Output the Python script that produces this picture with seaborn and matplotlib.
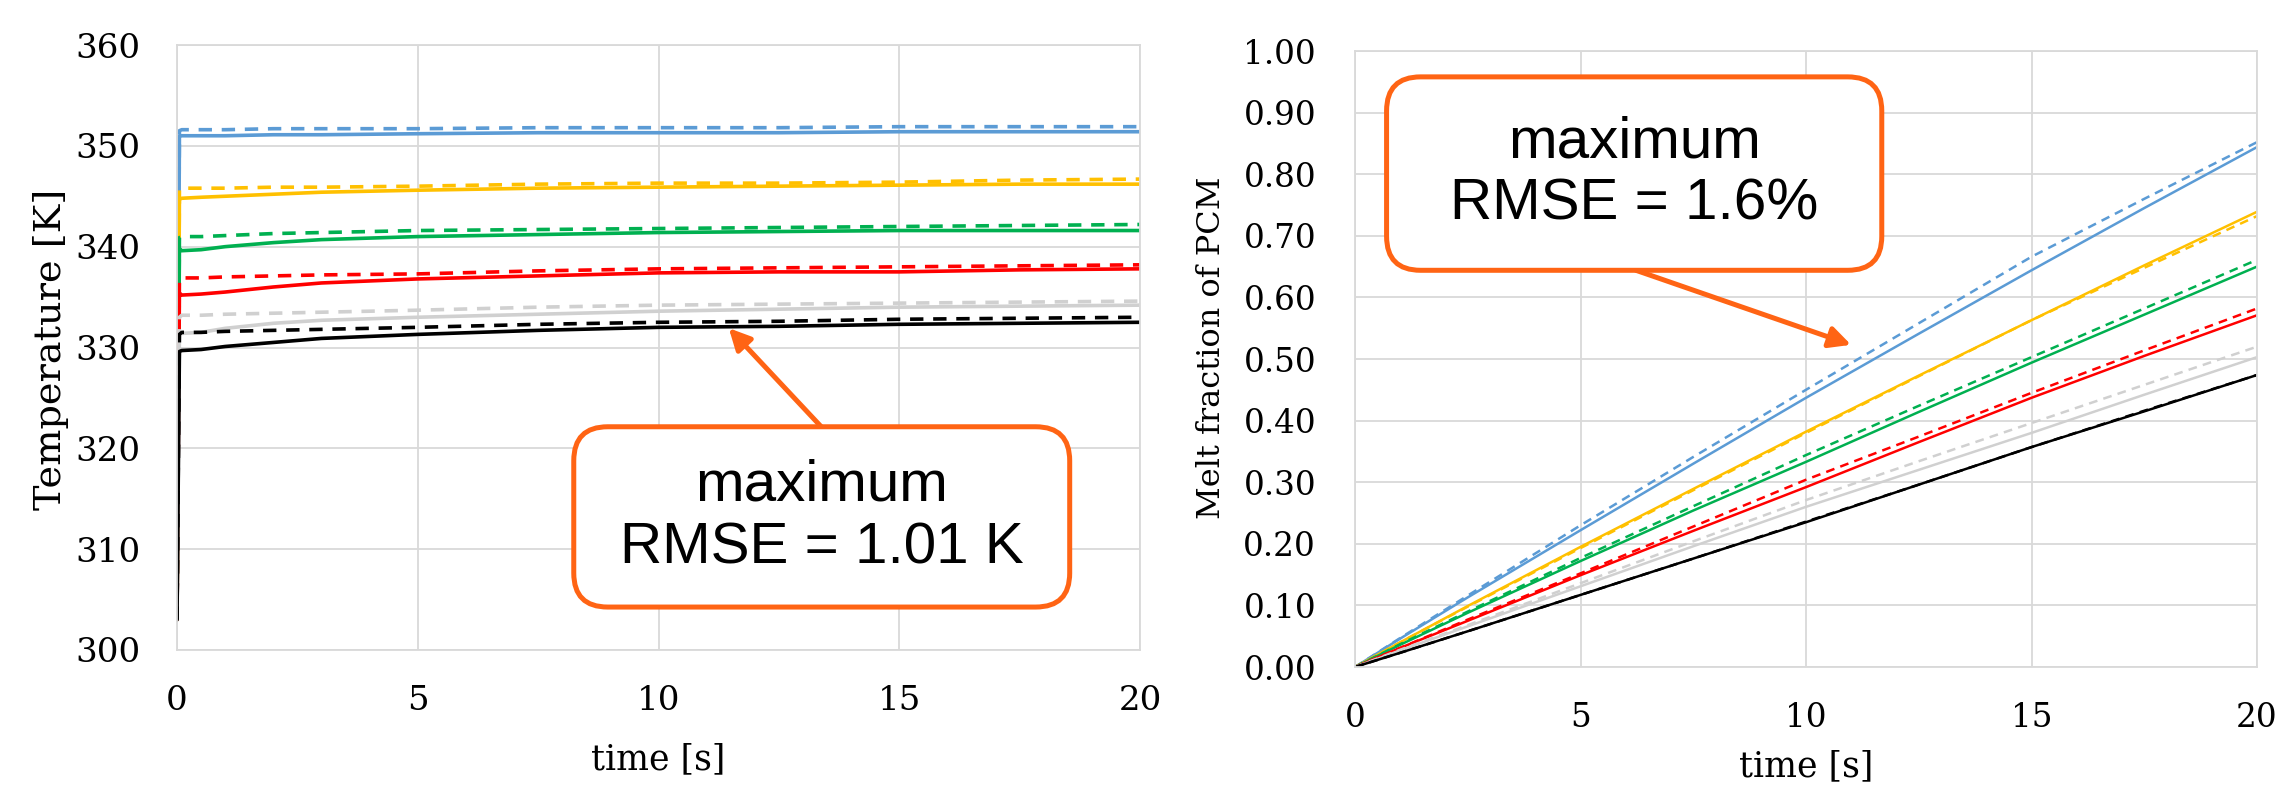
import matplotlib.pyplot as plt
import matplotlib.patches as patches
import matplotlib.ticker as ticker
import pandas as pd
import seaborn as sns

# six cases, each drawn as a solid and a dashed curve
cases = ['c1', 'c2', 'c3', 'c4', 'c5', 'c6']
case_colors = ['#5B9BD5', '#FFC000', '#00B050', '#FF0000', '#D0D0D0', '#000000']

# left panel: temperature [K] vs time [s]
t_temp = [0, 0.05, 0.1, 0.5, 1, 2, 3, 5, 7.5, 10, 12.5, 15, 17.5, 20]
temp_c1_solid = [303, 351.0, 351.0, 351.0, 351.0, 351.1, 351.1, 351.2, 351.3, 351.3, 351.3, 351.4, 351.4, 351.4]
temp_c1_dashed = [303, 351.5, 351.6, 351.6, 351.6, 351.7, 351.7, 351.7, 351.8, 351.8, 351.8, 351.9, 351.9, 351.9]
temp_c2_solid = [303, 344.7, 344.8, 344.9, 345.0, 345.2, 345.4, 345.6, 345.8, 345.9, 346.0, 346.1, 346.2, 346.2]
temp_c2_dashed = [303, 345.6, 345.8, 345.8, 345.8, 345.9, 345.9, 346.0, 346.2, 346.3, 346.3, 346.4, 346.6, 346.7]
temp_c3_solid = [303, 339.8, 339.6, 339.7, 340.0, 340.4, 340.7, 341.0, 341.2, 341.4, 341.5, 341.6, 341.6, 341.6]
temp_c3_dashed = [303, 340.9, 341.0, 341.0, 341.1, 341.3, 341.4, 341.6, 341.7, 341.8, 341.9, 342.0, 342.1, 342.2]
temp_c4_solid = [303, 335.4, 335.2, 335.3, 335.5, 336.0, 336.4, 336.8, 337.1, 337.4, 337.5, 337.5, 337.7, 337.8]
temp_c4_dashed = [303, 336.7, 336.9, 336.9, 337.0, 337.1, 337.2, 337.3, 337.6, 337.8, 337.9, 338.0, 338.1, 338.2]
temp_c5_solid = [303, 331.4, 331.4, 331.5, 331.9, 332.4, 332.7, 333.0, 333.3, 333.6, 333.8, 334.0, 334.1, 334.2]
temp_c5_dashed = [303, 333.0, 333.2, 333.2, 333.3, 333.4, 333.5, 333.7, 334.0, 334.2, 334.3, 334.4, 334.5, 334.6]
temp_c6_solid = [303, 329.6, 329.7, 329.8, 330.1, 330.5, 330.9, 331.3, 331.7, 332.0, 332.1, 332.3, 332.4, 332.5]
temp_c6_dashed = [303, 331.3, 331.5, 331.5, 331.6, 331.7, 331.8, 332.0, 332.3, 332.5, 332.6, 332.8, 332.9, 333.0]

# right panel: melt fraction vs time [s]
t_melt = [0, 1, 2.5, 5, 7.5, 10, 12.5, 15, 17.5, 20]
melt_c1_solid = [0, 0.046, 0.113, 0.222, 0.330, 0.437, 0.541, 0.644, 0.745, 0.844]
melt_c1_dashed = [0, 0.047, 0.116, 0.230, 0.341, 0.450, 0.558, 0.666, 0.760, 0.852]
melt_c2_solid = [0, 0.040, 0.099, 0.195, 0.289, 0.382, 0.473, 0.563, 0.652, 0.739]
melt_c2_dashed = [0, 0.040, 0.098, 0.193, 0.287, 0.380, 0.472, 0.563, 0.648, 0.732]
melt_c3_solid = [0, 0.036, 0.088, 0.172, 0.254, 0.333, 0.414, 0.494, 0.572, 0.650]
melt_c3_dashed = [0, 0.037, 0.090, 0.177, 0.261, 0.344, 0.424, 0.503, 0.582, 0.661]
melt_c4_solid = [0, 0.031, 0.075, 0.149, 0.221, 0.292, 0.365, 0.437, 0.505, 0.571]
melt_c4_dashed = [0, 0.031, 0.077, 0.152, 0.228, 0.304, 0.374, 0.445, 0.514, 0.582]
melt_c5_solid = [0, 0.027, 0.066, 0.131, 0.196, 0.260, 0.320, 0.380, 0.442, 0.503]
melt_c5_dashed = [0, 0.028, 0.068, 0.136, 0.204, 0.271, 0.334, 0.396, 0.458, 0.520]
melt_c6_solid = [0, 0.023, 0.058, 0.117, 0.176, 0.235, 0.296, 0.357, 0.415, 0.474]
melt_c6_dashed = [0, 0.023, 0.058, 0.117, 0.176, 0.236, 0.296, 0.357, 0.416, 0.474]

temp_solid = [temp_c1_solid, temp_c2_solid, temp_c3_solid, temp_c4_solid, temp_c5_solid, temp_c6_solid]
temp_dashed = [temp_c1_dashed, temp_c2_dashed, temp_c3_dashed, temp_c4_dashed, temp_c5_dashed, temp_c6_dashed]
melt_solid = [melt_c1_solid, melt_c2_solid, melt_c3_solid, melt_c4_solid, melt_c5_solid, melt_c6_solid]
melt_dashed = [melt_c1_dashed, melt_c2_dashed, melt_c3_dashed, melt_c4_dashed, melt_c5_dashed, melt_c6_dashed]

orange = '#FF6414'
grid_grey = '#D9D9D9'


def long_frame(t, solid, dashed):
    parts = []
    for case, s, d in zip(cases, solid, dashed):
        parts.append(pd.DataFrame({'time': t, 'value': s, 'case': case, 'kind': 'solid'}))
        parts.append(pd.DataFrame({'time': t, 'value': d, 'case': case, 'kind': 'dashed'}))
    return pd.concat(parts, ignore_index=True)


def style_axes(ax, labelsize):
    ax.grid(True, color=grid_grey, linewidth=1.3)
    ax.set_axisbelow(True)
    for spine in ax.spines.values():
        spine.set_color(grid_grey)
        spine.set_linewidth(1.3)
    ax.tick_params(length=0, labelsize=labelsize, colors='black')


def callout(ax, box, text, tail, head, ax_px):
    # box given in axes fraction: x0, y0, x1, y1
    x0, y0, x1, y1 = box
    w_px, h_px = ax_px
    r = 34 / w_px
    ax.annotate('', xy=head, xytext=tail, xycoords='axes fraction', textcoords='axes fraction',
                arrowprops=dict(arrowstyle='-|>', color=orange, lw=3.6, mutation_scale=32,
                                shrinkA=0, shrinkB=0), zorder=4)
    patch = patches.FancyBboxPatch((x0, y0), x1 - x0, y1 - y0,
                                   boxstyle='round,pad=0,rounding_size=%f' % r,
                                   mutation_aspect=w_px / h_px, transform=ax.transAxes,
                                   facecolor='white', edgecolor=orange, linewidth=3.6,
                                   zorder=5, clip_on=False)
    ax.add_patch(patch)
    ax.text((x0 + x1) / 2, (y0 + y1) / 2, text, transform=ax.transAxes, ha='center', va='center',
            fontsize=42, family='Liberation Sans', color='black', linespacing=1.2, zorder=6)


sns.set_theme(style='white')
plt.rcParams['font.family'] = ['DejaVu Serif']
plt.rcParams['text.color'] = 'black'
plt.rcParams['axes.labelcolor'] = 'black'

fig = plt.figure(figsize=(22.82, 7.89), dpi=100)

# ---- left: temperature
ax1 = fig.add_axes([177 / 2282, 139 / 789, 963 / 2282, 605 / 789])
df_temp = long_frame(t_temp, temp_solid, temp_dashed)
sns.lineplot(data=df_temp, x='time', y='value', hue='case', style='kind',
             hue_order=cases, style_order=['solid', 'dashed'], palette=case_colors,
             dashes={'solid': '', 'dashed': (3.7, 2.7)}, estimator=None, sort=False,
             legend=False, linewidth=2.6, ax=ax1)
ax1.set_xlim(0, 20)
ax1.set_ylim(300, 360)
ax1.set_xticks([0, 5, 10, 15, 20])
ax1.set_yticks(range(300, 361, 10))
style_axes(ax1, 24.5)
ax1.tick_params(axis='y', pad=26)
ax1.tick_params(axis='x', pad=25)
ax1.set_xlabel('time [s]', fontsize=25)
ax1.set_ylabel('Temperature [K]', fontsize=27.5)
ax1.xaxis.set_label_coords(0.5, -0.153)
ax1.yaxis.set_label_coords(-0.112, 0.4975)
callout(ax1, (0.412, 0.071, 0.927, 0.369), 'maximum\nRMSE = 1.01 K',
        tail=(0.669, 0.369), head=(0.573, 0.532), ax_px=(963, 605))

# ---- right: melt fraction
ax2 = fig.add_axes([1355 / 2282, 122 / 789, 902 / 2282, 616 / 789])
df_melt = long_frame(t_melt, melt_solid, melt_dashed)
sns.lineplot(data=df_melt, x='time', y='value', hue='case', style='kind',
             hue_order=cases, style_order=['solid', 'dashed'], palette=case_colors,
             dashes={'solid': '', 'dashed': (3.5, 2.5)}, estimator=None, sort=False,
             legend=False, linewidth=1.8, ax=ax2)
ax2.set_xlim(0, 20)
ax2.set_ylim(0, 1.0)
ax2.set_xticks([0, 5, 10, 15, 20])
ax2.set_yticks([i / 10 for i in range(11)])
ax2.yaxis.set_major_formatter(ticker.FormatStrFormatter('%.2f'))
style_axes(ax2, 23.5)
ax2.tick_params(axis='y', pad=28)
ax2.tick_params(axis='x', pad=25)
ax2.set_xlabel('time [s]', fontsize=25)
ax2.set_ylabel('Melt fraction of PCM', fontsize=23)
ax2.xaxis.set_label_coords(0.5, -0.133)
ax2.yaxis.set_label_coords(-0.142, 0.518)
callout(ax2, (0.035, 0.644, 0.584, 0.958), 'maximum\nRMSE = 1.6%',
        tail=(0.3115, 0.644), head=(0.550, 0.523), ax_px=(902, 616))

fig.savefig('out.png', dpi=100)
